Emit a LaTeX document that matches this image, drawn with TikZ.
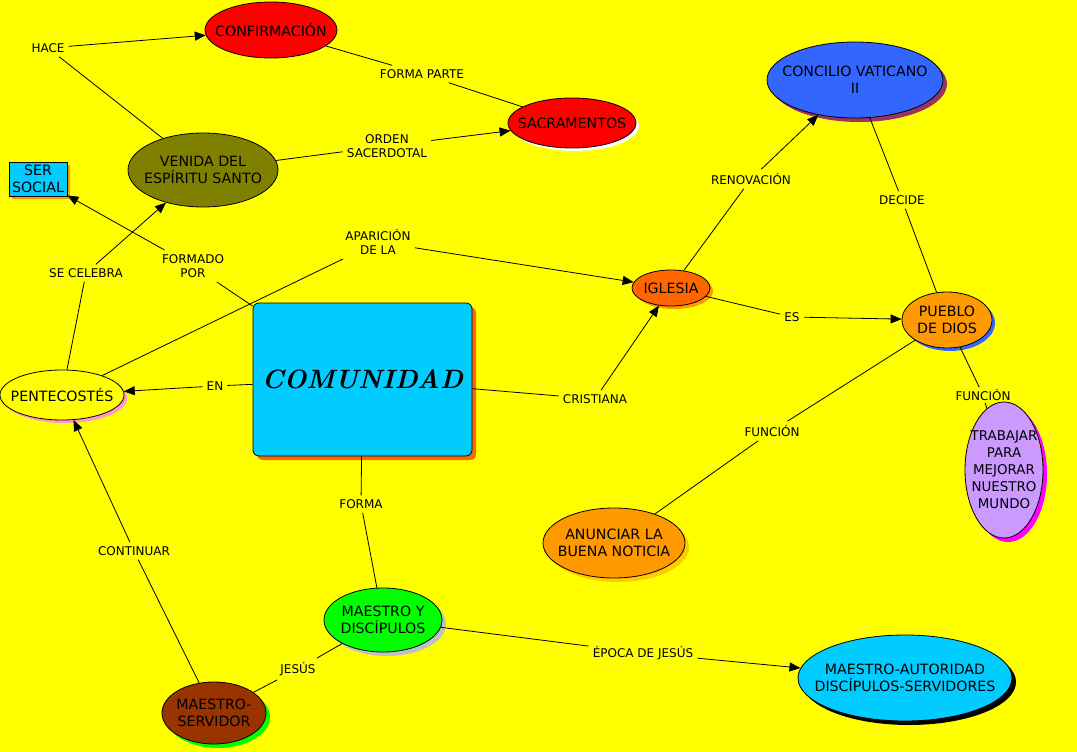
\documentclass[tikz,border=0pt]{standalone}
\usepackage{fontspec}
\newfontfamily\vf{DejaVu Sans}
\usetikzlibrary{shapes.geometric,arrows.meta,shadows}
\definecolor{bgy}{HTML}{FFFF00}
\definecolor{cred}{HTML}{FF0000}
\definecolor{colive}{HTML}{808000}
\definecolor{ccyan}{HTML}{00CCFF}
\definecolor{corange}{HTML}{FF9900}
\definecolor{cdorange}{HTML}{FF6600}
\definecolor{cblue}{HTML}{3366FF}
\definecolor{cplum}{HTML}{993366}
\definecolor{clav}{HTML}{CC99FF}
\definecolor{cmag}{HTML}{FF00FF}
\definecolor{cpink}{HTML}{FF99CC}
\definecolor{cgold}{HTML}{FFCC00}
\definecolor{cgreen}{HTML}{00FF00}
\definecolor{cgray}{HTML}{C0C0C0}
\definecolor{cbrown}{HTML}{993300}
\begin{document}
\begin{tikzpicture}[x=1pt,y=-1pt,
 ell/.style={ellipse,draw=black,line width=0.8pt,inner sep=0pt},
 nt/.style={font=\vf\fontsize{14.2}{17}\selectfont,align=center,inner sep=0pt,text=black},
 lk/.style={font=\vf\fontsize{12}{14.5}\selectfont,align=center,inner sep=4pt},
 con/.style={draw=black,line width=0.8pt},
 arr/.style={con,-{Triangle[length=11pt,width=9pt]}},
]
\fill[bgy] (0,0) rectangle (1077,752);
\useasboundingbox (0,0) rectangle (1077,752);

% concept nodes
\node[ell,fill=cred,minimum width=132pt,minimum height=56pt,label={[nt]center:CONFIRMACIÓN}] (conf) at (271,30) {};
\node[ell,fill=cred,minimum width=128pt,minimum height=50pt,drop shadow={shadow xshift=3pt,shadow yshift=-3pt,fill=white,opacity=1},label={[nt]center:SACRAMENTOS}] (sacr) at (572,123) {};
\node[ell,fill=colive,minimum width=150pt,minimum height=74pt,label={[nt]center:VENIDA DEL\\ESPÍRITU SANTO}] (venida) at (203,170) {};
\node[draw=black,line width=0.8pt,fill=ccyan,minimum width=58pt,minimum height=34pt,inner sep=0pt,drop shadow={shadow xshift=3pt,shadow yshift=-3pt,fill=corange,opacity=1},label={[nt]center:SER\\SOCIAL}] (ser) at (38,179) {};
\node[ell,fill=cblue,minimum width=176pt,minimum height=76pt,drop shadow={shadow xshift=4pt,shadow yshift=-4pt,fill=cplum,opacity=1},label={[nt]center:CONCILIO VATICANO\\II}] (conc) at (855,80) {};
\node[ell,fill=cdorange,minimum width=78pt,minimum height=36pt,drop shadow={shadow xshift=3pt,shadow yshift=-3pt,fill=corange,opacity=1},label={[nt]center:IGLESIA}] (igl) at (671,288) {};
\node[ell,fill=corange,minimum width=90pt,minimum height=56pt,drop shadow={shadow xshift=3pt,shadow yshift=-3pt,fill=cblue,opacity=1},label={[nt]center:PUEBLO\\DE DIOS}] (pueblo) at (947,320) {};
\node[ell,fill=clav,minimum width=78pt,minimum height=136pt,drop shadow={shadow xshift=4pt,shadow yshift=-4pt,fill=cmag,opacity=1},label={[nt,font=\vf\fontsize{13.4}{17}\selectfont]center:TRABAJAR\\PARA\\MEJORAR\\NUESTRO\\MUNDO}] (trab) at (1004,470) {};
\node[draw=black,line width=0.8pt,rounded corners=6pt,fill=ccyan,minimum width=219pt,minimum height=153pt,inner sep=0pt,drop shadow={shadow xshift=4pt,shadow yshift=-4pt,fill=cdorange,opacity=1},label={[font=\rmfamily\bfseries\itshape\fontsize{26.5}{32}\selectfont,inner sep=0pt]center:COMUNIDAD}] (com) at (362.5,379.5) {};
\node[ell,fill=bgy,minimum width=124pt,minimum height=50pt,drop shadow={shadow xshift=3pt,shadow yshift=-3pt,fill=cpink,opacity=1},label={[nt]center:PENTECOSTÉS}] (pent) at (62,395) {};
\node[ell,fill=corange,minimum width=142pt,minimum height=70pt,drop shadow={shadow xshift=4pt,shadow yshift=-4pt,fill=cgold,opacity=1},label={[nt]center:ANUNCIAR LA\\BUENA NOTICIA}] (anun) at (614,543) {};
\node[ell,fill=cgreen,minimum width=118pt,minimum height=64pt,drop shadow={shadow xshift=4pt,shadow yshift=-4pt,fill=cgray,opacity=1},label={[nt]center:MAESTRO Y\\DISCÍPULOS}] (my) at (383,620) {};
\node[ell,fill=cbrown,minimum width=104pt,minimum height=62pt,drop shadow={shadow xshift=4pt,shadow yshift=-4pt,fill=cgreen,opacity=1},label={[nt]center:MAESTRO-\\SERVIDOR}] (ms) at (214,713) {};
\node[ell,fill=ccyan,minimum width=214pt,minimum height=86pt,drop shadow={shadow xshift=4pt,shadow yshift=-4pt,fill=black,opacity=1},label={[nt]center:MAESTRO-AUTORIDAD\\DISCÍPULOS-SERVIDORES}] (ma) at (905,678) {};

% link labels
\node[lk] (hace) at (48,48) {HACE};
\node[lk] (fp) at (422,74) {FORMA PARTE};
\node[lk] (os) at (387,146) {ORDEN\\SACERDOTAL};
\node[lk] (sc) at (86,273) {SE CELEBRA};
\node[lk] (fpor) at (193,266) {FORMADO\\POR};
\node[lk] (ap) at (378,242) {APARICIÓN\\DE LA};
\node[lk] (ren) at (751,179) {RENOVACIÓN};
\node[lk] (dec) at (902,200) {DECIDE};
\node[lk] (es) at (792,317) {ES};
\node[lk] (en) at (215,386) {EN};
\node[lk] (cri) at (595,399) {CRISTIANA};
\node[lk,inner sep=2pt] (fun1) at (983,395) {FUNCIÓN};
\node[lk] (fun2) at (772,431) {FUNCIÓN};
\node[lk] (forma) at (361,504) {FORMA};
\node[lk] (cont) at (134,551) {CONTINUAR};
\node[lk] (jes) at (298,669) {JESÚS};
\node[lk] (ep) at (643,653) {ÉPOCA DE JESÚS};

% connectors
\draw[con] (venida) -- (hace); \draw[arr] (hace) -- (conf);
\draw[con] (conf) -- (fp); \draw[con] (fp) -- (sacr);
\draw[con] (venida) -- (os); \draw[arr] (os) -- (sacr);
\draw[con] (pent) -- (sc); \draw[arr] (sc) -- (venida);
\draw[con] (com) -- (fpor); \draw[arr] (fpor) -- (ser);
\draw[con] (pent) -- (ap); \draw[arr] (ap) -- (igl);
\draw[con] (igl) -- (ren); \draw[arr] (ren) -- (conc);
\draw[con] (conc) -- (dec); \draw[con] (dec) -- (pueblo);
\draw[con] (igl) -- (es); \draw[arr] (es) -- (pueblo);
\draw[con] (pueblo) -- (fun1); \draw[con] (fun1) -- (trab);
\draw[con] (pueblo) -- (fun2); \draw[con] (fun2) -- (anun);
\draw[con] (com) -- (en); \draw[arr] (en) -- (pent);
\draw[con] (com) -- (cri); \draw[arr] (cri) -- (igl);
\draw[con] (com) -- (forma); \draw[con] (forma) -- (my);
\draw[con] (ms) -- (cont); \draw[arr] (cont) -- (pent);
\draw[con] (ms) -- (jes); \draw[con] (jes) -- (my);
\draw[con] (my) -- (ep); \draw[arr] (ep) -- (ma);
\end{tikzpicture}
\end{document}
